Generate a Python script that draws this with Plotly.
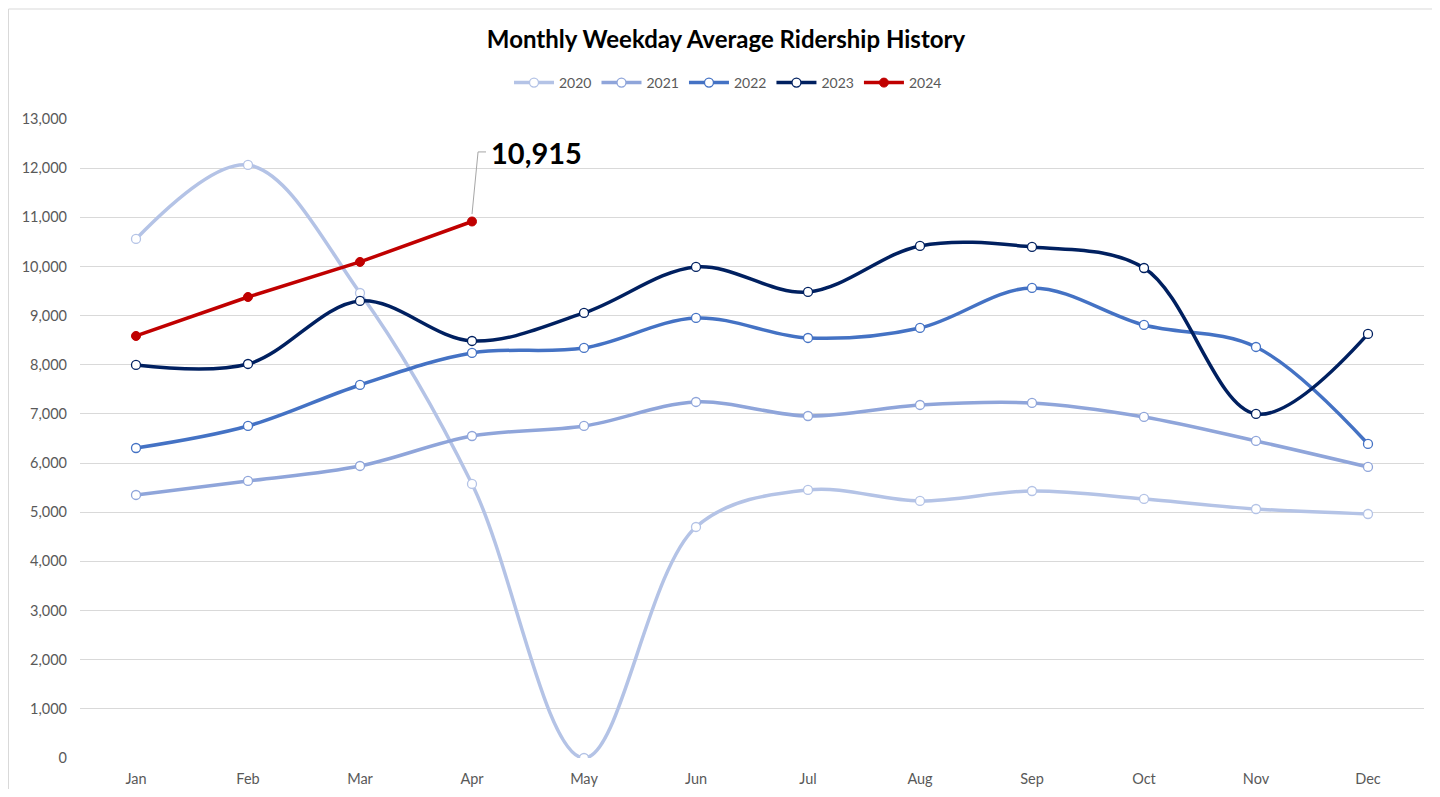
import plotly.graph_objects as go

months = ["Jan", "Feb", "Mar", "Apr", "May", "Jun", "Jul", "Aug", "Sep", "Oct", "Nov", "Dec"]
y2020 = [10560, 12065, 9460, 5575, 0, 4700, 5453, 5229, 5432, 5270, 5066, 4964]
y2021 = [5351, 5636, 5941, 6551, 6755, 7243, 6958, 7182, 7223, 6938, 6450, 5921]
y2022 = [6307, 6755, 7589, 8240, 8342, 8952, 8545, 8749, 9563, 8810, 8362, 6389]
y2023 = [7996, 8016, 9298, 8484, 9054, 9990, 9481, 10417, 10397, 9969, 6999, 8627]
y2024 = [8586, 9379, 10092, 10915]
callout_label = "10,915"

FONT = "Lato"
OFF = 8  # page body margin
W, H = 1440 - 2 * OFF, 797 - 2 * OFF
L, T, PW, PH = 80 - OFF, 119 - OFF, 1344, 639
B = H - T - PH
R = W - L - PW

fig = go.Figure()

series = [
    ("2020", y2020, "#B4C3E6"),
    ("2021", y2021, "#8FA5DA"),
    ("2022", y2022, "#4472C4"),
    ("2023", y2023, "#002060"),
]
for name, vals, color in series:
    fig.add_trace(go.Scatter(
        x=months[:len(vals)], y=vals, name=name, mode="lines+markers",
        line=dict(color=color, width=3.5, shape="spline", smoothing=1.0),
        marker=dict(symbol="circle", size=9, color="white", line=dict(color=color, width=1.3)),
    ))
fig.add_trace(go.Scatter(
    x=months[:len(y2024)], y=y2024, name="2024", mode="lines+markers",
    line=dict(color="#C00000", width=3.5),
    marker=dict(symbol="circle", size=9, color="#C00000", line=dict(color="#C00000", width=1)),
))

# leader line for callout
fig.add_shape(type="line", xref="x", yref="y", x0=3, y0=y2024[3] + 150, x1=3.054, y1=12330,
              line=dict(color="#A6A6A6", width=1))
fig.add_shape(type="line", xref="x", yref="y", x0=3.054, y0=12330, x1=3.125, y1=12330,
              line=dict(color="#A6A6A6", width=1))
fig.add_annotation(x=3.155, y=12310, xref="x", yref="y", text="<b>" + callout_label + "</b>",
                   showarrow=False, xanchor="left", yanchor="middle",
                   font=dict(family=FONT, size=29, color="black"))

# outer border (left and top edges visible)
fig.add_shape(type="rect", xref="paper", yref="paper",
              x0=(0.5 - L) / PW, x1=(W + 20 - L) / PW,
              y0=(T + PH - H - 20) / PH, y1=(T + PH - 1) / PH,
              line=dict(color="#D9D9D9", width=1))

fig.update_layout(
    width=W, height=H,
    margin=dict(l=L, r=R, t=T, b=B, autoexpand=False),
    paper_bgcolor="white", plot_bgcolor="white",
    title=dict(text="<b>Monthly Weekday Average Ridership History</b>", x=(726 - OFF) / W, xanchor="center",
               xref="container", y=1 - (40 - OFF) / H, yanchor="middle",
               font=dict(family=FONT, size=24, color="black")),
    legend=dict(orientation="h", x=(728 - 80) / PW, xanchor="center", y=(758 - 83) / PH, yanchor="middle",
                yref="paper", font=dict(family=FONT, size=14, color="#595959"),
                itemwidth=40, traceorder="normal"),
    showlegend=True,
    font=dict(family=FONT, size=14, color="#595959"),
)
fig.update_xaxes(type="category", range=[-0.5, 11.5], showgrid=False, showline=False,
                 ticks="", ticklabelstandoff=10, automargin=False,
                 tickfont=dict(family=FONT, size=14.5, color="#595959"), zeroline=False)
fig.update_yaxes(range=[0, 13000], dtick=1000, tickformat=",", showgrid=True, gridcolor="#D9D9D9",
                 gridwidth=1, zeroline=False, showline=False, ticks="", ticklabelstandoff=12,
                 automargin=False,
                 tickfont=dict(family=FONT, size=14.5, color="#595959"))

fig.write_html("out.html")
